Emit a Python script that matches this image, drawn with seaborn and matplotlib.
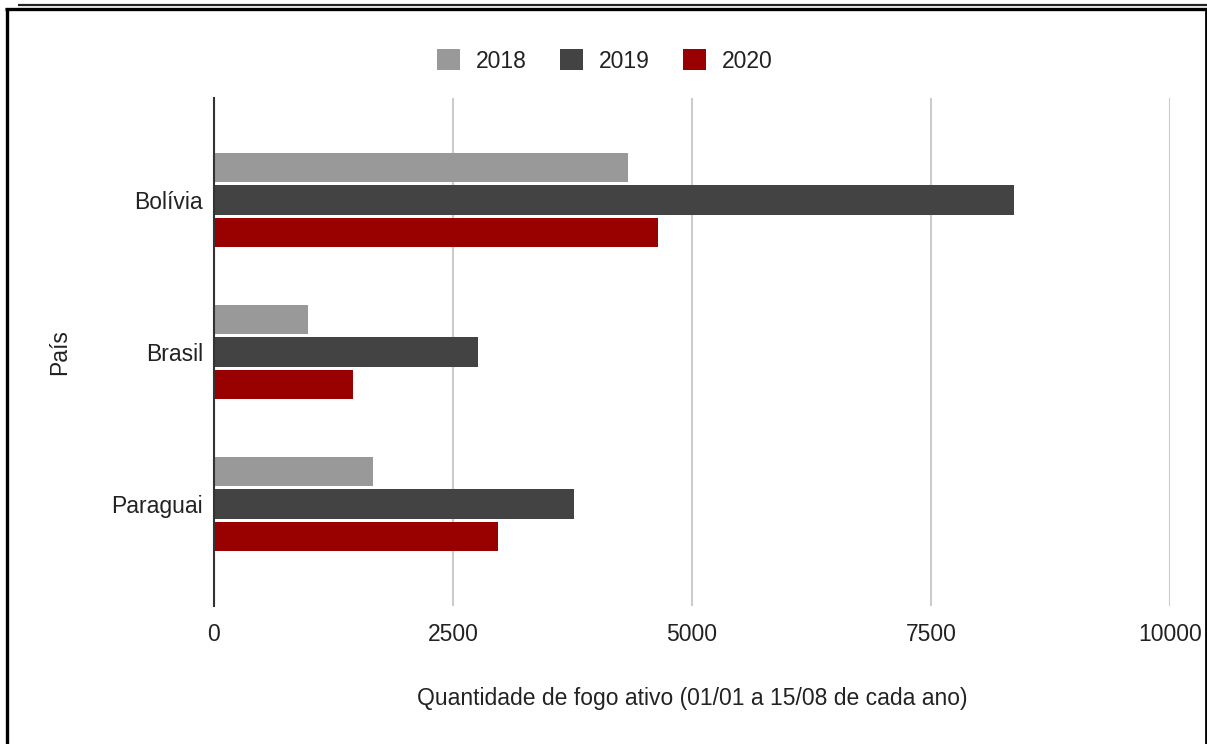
import matplotlib
matplotlib.use("Agg")
import matplotlib.pyplot as plt
from matplotlib.lines import Line2D
from matplotlib.patches import Patch
import seaborn as sns
import pandas as pd

countries = ["Bolívia", "Brasil", "Paraguai"]
years = ["2018", "2019", "2020"]
v2018 = [4330, 985, 1665]
v2019 = [8370, 2760, 3765]
v2020 = [4645, 1455, 2970]
xticks = [0, 2500, 5000, 7500, 10000]
colors = ["#999999", "#434343", "#990000"]

rows = []
for y, vals in zip(years, [v2018, v2019, v2020]):
    for c, v in zip(countries, vals):
        rows.append({"País": c, "Ano": y, "Valor": v})
df = pd.DataFrame(rows)

sns.set_theme(style="white")
plt.rcParams["font.family"] = ["Liberation Sans", "DejaVu Sans"]

FS = 16.5
TXT = "#222222"
W, H = 1207, 744
fig = plt.figure(figsize=(W / 100, H / 100), dpi=100)
ax = fig.add_axes([214 / W, 1 - 606 / H, (1170 - 214) / W, (606 - 98) / H])

sns.barplot(data=df, y="País", x="Valor", hue="Ano", hue_order=years,
            order=countries, palette=colors, orient="h", width=0.64,
            gap=0.1, ax=ax, legend=False, saturation=1, linewidth=0)

ax.set_xlim(0, 10000)
ax.set_ylim(2.67, -0.67)
ax.set_xticks(xticks)
ax.set_xticklabels([str(t) for t in xticks], fontsize=FS, color=TXT)
ax.tick_params(axis="y", labelsize=FS, labelcolor=TXT, length=0, pad=8)
ax.tick_params(axis="x", length=0, pad=12)
ax.grid(axis="x", color="#cccccc", linewidth=1.5)
ax.set_axisbelow(True)
for s in ["top", "right", "bottom"]:
    ax.spines[s].set_visible(False)
ax.spines["left"].set_color("#333333")
ax.spines["left"].set_linewidth(1.5)
ax.set_xlabel("Quantidade de fogo ativo (01/01 a 15/08 de cada ano)",
              fontsize=FS, color=TXT, labelpad=30)
ax.set_ylabel("País", fontsize=FS, color=TXT)
ax.yaxis.set_label_coords((71 - 214) / 956, 0.5)

handles = [Patch(facecolor=c, edgecolor="none") for c in colors]
fig.legend(handles, years, loc="center", bbox_to_anchor=(605 / W, 1 - 61 / H),
           ncol=3, frameon=False, fontsize=FS, handlelength=1.0,
           handleheight=1.0, columnspacing=1.45, handletextpad=0.7,
           labelcolor=TXT)

# page border lines (pixel coordinates)
def px_line(x0, y0, x1, y1, lw, color):
    fig.add_artist(Line2D([x0 / W, x1 / W], [1 - y0 / H, 1 - y1 / H],
                          transform=fig.transFigure, lw=lw, color=color,
                          solid_capstyle="butt"))

px_line(18, 4.5, W, 4.5, 1.6, "#222222")
px_line(5, 8.5, W, 8.5, 2.4, "#000000")
px_line(6.5, 7.5, 6.5, H, 2.4, "#000000")
px_line(1205.5, 8, 1205.5, H, 2.0, "#000000")

fig.savefig("out.png", dpi=100)
